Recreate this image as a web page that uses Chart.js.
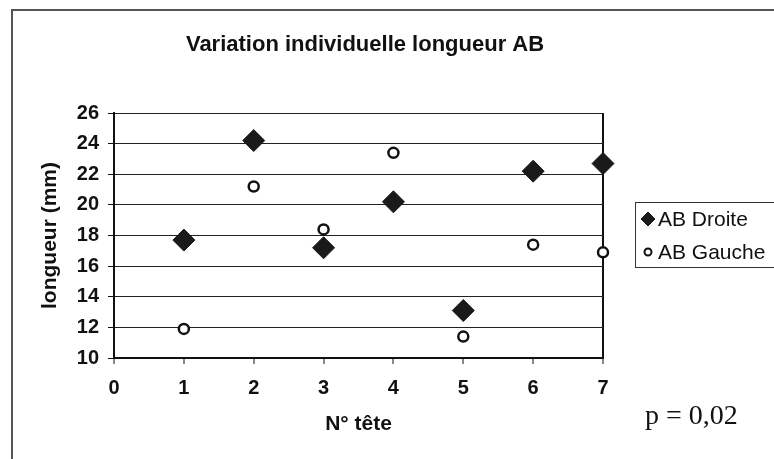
<!DOCTYPE html>
<html>
<head>
<meta charset="utf-8">
<script src="https://cdn.jsdelivr.net/npm/chart.js@4"></script>
<style>
html,body{margin:0;padding:0;background:#fff;}
#wrap{width:774px;height:459px;position:relative;}
</style>
</head>
<body>
<div id="wrap"><canvas id="c" width="774" height="459"></canvas></div>
<script>
const chartTitle = 'Variation individuelle longueur AB';
const xTitle = 'N° tête';
const yTitle = 'longueur (mm)';
const headNumbers = [1, 2, 3, 4, 5, 6, 7];
const abDroite = [17.7, 24.2, 17.2, 20.2, 13.1, 22.2, 22.7];
const abGauche = [11.9, 21.2, 18.4, 23.4, 11.4, 17.4, 16.9];
const seriesNames = ['AB Droite', 'AB Gauche'];
const xRange = [0, 7];
const yRange = [10, 26];
const yStep = 2;
const pValueText = 'p = 0,02';

const FONT = '"Liberation Sans", Arial, sans-serif';

const decor = {
  id: 'decor',
  beforeDraw(chart) {
    const ctx = chart.ctx;
    ctx.save();
    ctx.fillStyle = '#fff';
    ctx.fillRect(0, 0, chart.width, chart.height);
    ctx.strokeStyle = '#555';
    ctx.lineWidth = 2;
    ctx.beginPath();
    ctx.moveTo(12, 470);
    ctx.lineTo(12, 10);
    ctx.lineTo(790, 10);
    ctx.stroke();
    ctx.restore();
  },
  afterDraw(chart) {
    const ctx = chart.ctx;
    ctx.save();
    // title
    ctx.fillStyle = '#111';
    ctx.font = 'bold 22px ' + FONT;
    ctx.textAlign = 'center';
    ctx.textBaseline = 'middle';
    ctx.fillText(chartTitle, 365, 45);
    // legend box
    ctx.strokeStyle = '#333';
    ctx.lineWidth = 1;
    ctx.strokeRect(635.5, 202.5, 160, 65);
    const ds = chart.data.datasets;
    const rows = [219, 252];
    ds.forEach((d, i) => {
      const y = rows[i];
      ctx.save();
      ctx.fillStyle = d.pointBackgroundColor;
      ctx.strokeStyle = d.pointBorderColor;
      ctx.lineWidth = i === 0 ? 1 : 2;
      Chart.helpers.drawPoint(ctx, {pointStyle: d.pointStyle, radius: i === 0 ? 7 : 3.5, borderWidth: ctx.lineWidth}, 648, y);
      ctx.restore();
      ctx.fillStyle = '#111';
      ctx.font = '21px ' + FONT;
      ctx.textAlign = 'left';
      ctx.textBaseline = 'middle';
      ctx.fillText(d.label, 658, y + 1);
    });
    // p value
    ctx.fillStyle = '#111';
    ctx.font = '28px "Liberation Serif", "Times New Roman", serif';
    ctx.textAlign = 'left';
    ctx.textBaseline = 'alphabetic';
    ctx.fillText(pValueText, 645, 424);
    ctx.restore();
  }
};

new Chart(document.getElementById('c'), {
  type: 'scatter',
  data: {
    datasets: [
      {
        label: seriesNames[0],
        data: headNumbers.map((x, i) => ({x: x, y: abDroite[i]})),
        pointStyle: 'rectRot',
        pointRadius: 11,
        pointBackgroundColor: '#1a1a1a',
        pointBorderColor: '#1a1a1a',
        pointBorderWidth: 1,
        clip: false
      },
      {
        label: seriesNames[1],
        data: headNumbers.map((x, i) => ({x: x, y: abGauche[i]})),
        pointStyle: 'circle',
        pointRadius: 5,
        pointBackgroundColor: '#fff',
        pointBorderColor: '#111',
        pointBorderWidth: 2.5,
        clip: false
      }
    ]
  },
  options: {
    responsive: false,
    animation: false,
    events: [],
    layout: {padding: {left: 0, top: 113, right: 171, bottom: 0}},
    plugins: {legend: {display: false}, tooltip: {enabled: false}, title: {display: false}},
    scales: {
      x: {
        type: 'linear',
        min: xRange[0], max: xRange[1],
        ticks: {stepSize: 1, color: '#111', font: {family: FONT, size: 20, weight: 'bold'}, padding: 12},
        grid: {
          drawOnChartArea: true,
          color: (c) => (c.tick && c.tick.value === xRange[1]) ? '#111' : 'rgba(0,0,0,0)',
          lineWidth: 2,
          tickColor: '#111', tickLength: 6, tickWidth: 1
        },
        border: {display: true, color: '#111', width: 2},
        title: {display: true, text: xTitle, color: '#111', font: {family: FONT, size: 21, weight: 'bold'}, padding: {top: 0, bottom: 22}},
        afterFit: (s) => { s.height = 101; }
      },
      y: {
        type: 'linear',
        min: yRange[0], max: yRange[1],
        ticks: {stepSize: yStep, color: '#111', font: {family: FONT, size: 20, weight: 'bold'}, padding: 9},
        grid: {color: '#222', lineWidth: 1, tickColor: '#111', tickLength: 6},
        border: {display: true, color: '#111', width: 2},
        title: {display: true, text: yTitle, color: '#111', font: {family: FONT, size: 21, weight: 'bold'}, padding: {top: 38, bottom: 0}},
        afterFit: (s) => { s.width = 114; }
      }
    }
  },
  plugins: [decor]
});
</script>
</body>
</html>
